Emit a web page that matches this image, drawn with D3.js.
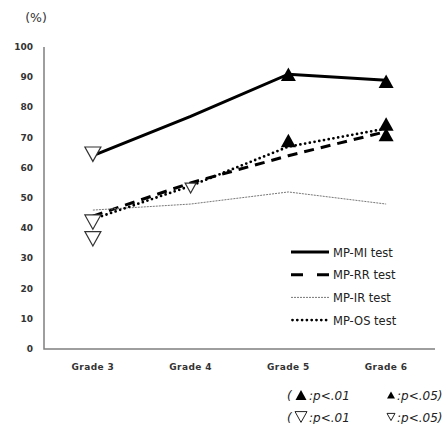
<!DOCTYPE html>
<html>
<head>
<meta charset="utf-8">
<script src="https://cdn.jsdelivr.net/npm/d3@7"></script>
<style>
    body { margin: 0; background: #fff; }
    svg { font-family: "DejaVu Sans", sans-serif; }
    .tick-label { font-size: 9px; font-weight: bold; fill: #333; }
    .legend text { font-family: "DejaVu Sans", sans-serif; font-size: 11.5px; fill: #222; }
    .note { font-family: "DejaVu Sans", sans-serif; font-size: 12px; font-style: italic; fill: #222; }
</style>
</head>
<body>
<div id="chart"></div>
<script>
    const grades = ['Grade 3', 'Grade 4', 'Grade 5', 'Grade 6'];
    const yTicks = [0, 10, 20, 30, 40, 50, 60, 70, 80, 90, 100];

    const mpMI = [64, 77, 91, 89];
    const mpRR = [44, 55, 64, 72];
    const mpIR = [46, 48, 52, 48];
    const mpOS = [43, 54, 67, 73];

    // significance markers: [grade, value]
    const filledBig = [['Grade 5', 91], ['Grade 5', 69], ['Grade 6', 88.7], ['Grade 6', 74.5], ['Grade 6', 71]];
    const openBig = [['Grade 3', 64.5], ['Grade 3', 42], ['Grade 3', 36.5]];
    const openSmall = [['Grade 4', 53.3]];

    const series = [
        { name: 'MP-MI test', values: mpMI, width: 3, dash: null, cap: 'butt', color: '#000' },
        { name: 'MP-RR test', values: mpRR, width: 3, dash: '10,7', cap: 'butt', color: '#000' },
        { name: 'MP-IR test', values: mpIR, width: 1, dash: '2,1', cap: 'butt', color: '#777' },
        { name: 'MP-OS test', values: mpOS, width: 2.8, dash: '0,4.8', cap: 'round', color: '#000' }
    ];

    const width = 443, height = 424;
    const margin = { left: 44, right: 8, top: 47, bottom: 75 };

    const svg = d3.select('#chart').append('svg')
        .attr('width', width)
        .attr('height', height);

    const x = d3.scaleBand()
        .domain(grades)
        .range([margin.left, width - margin.right]);

    const y = d3.scaleLinear()
        .domain([0, 100])
        .range([height - margin.bottom, margin.top]);

    const cx = g => x(g) + x.bandwidth() / 2;

    // axes
    svg.append('path')
        .attr('d', `M${margin.left},${y(100)}V${y(0)}H${width - margin.right}`)
        .attr('fill', 'none')
        .attr('stroke', '#7f7f7f')
        .attr('stroke-width', 1.5);

    svg.append('g').selectAll('text')
        .data(yTicks)
        .enter().append('text')
            .attr('class', 'tick-label')
            .attr('x', 33)
            .attr('y', d => y(d) + 3)
            .attr('text-anchor', 'end')
            .text(d => d);

    svg.append('g').selectAll('text')
        .data(grades)
        .enter().append('text')
            .attr('class', 'tick-label')
            .attr('x', d => cx(d))
            .attr('y', y(0) + 21)
            .attr('text-anchor', 'middle')
            .style('letter-spacing', '0.4px')
            .text(d => d);

    svg.append('text')
        .attr('x', 36)
        .attr('y', 22)
        .attr('text-anchor', 'middle')
        .style('font-size', '12.5px')
        .style('fill', '#333')
        .text('(%)');

    // lines
    const line = d3.line()
        .x((d, i) => cx(grades[i]))
        .y(d => y(d));

    svg.append('g').selectAll('path')
        .data(series)
        .enter().append('path')
            .attr('d', d => line(d.values))
            .attr('fill', 'none')
            .attr('stroke', d => d.color)
            .attr('stroke-width', d => d.width)
            .attr('stroke-dasharray', d => d.dash)
            .attr('stroke-linecap', d => d.cap);

    // markers
    const triDown = (s) => {
        const h = s * 0.9;
        return `M${-s / 2},${-h / 2}L${s / 2},${-h / 2}L0,${h / 2}Z`;
    };
    const triUp = (s) => {
        const h = s * 0.9;
        return `M${-s / 2},${h / 2}L${s / 2},${h / 2}L0,${-h / 2}Z`;
    };

    svg.append('g').selectAll('path')
        .data(filledBig)
        .enter().append('path')
            .attr('transform', d => `translate(${cx(d[0])},${y(d[1])})`)
            .attr('d', triUp(15))
            .attr('fill', '#000');

    svg.append('g').selectAll('path')
        .data(openBig)
        .enter().append('path')
            .attr('transform', d => `translate(${cx(d[0])},${y(d[1])})`)
            .attr('d', triDown(16))
            .attr('fill', '#fff')
            .attr('stroke', '#333')
            .attr('stroke-width', 1.2);

    svg.append('g').selectAll('path')
        .data(openSmall)
        .enter().append('path')
            .attr('transform', d => `translate(${cx(d[0])},${y(d[1])})`)
            .attr('d', triDown(11))
            .attr('fill', '#fff')
            .attr('stroke', '#333')
            .attr('stroke-width', 1.2);

    // legend
    const legend = svg.append('g').attr('class', 'legend')
        .attr('transform', 'translate(291,252)');

    const rows = legend.selectAll('g')
        .data(series)
        .enter().append('g')
            .attr('transform', (d, i) => `translate(0,${i * 22.7})`);

    rows.append('line')
        .attr('x1', d => d.cap === 'round' ? 1.5 : 0).attr('x2', 38)
        .attr('stroke', d => d.color)
        .attr('stroke-width', d => d.width)
        .attr('stroke-dasharray', d => d.name === 'MP-RR test' ? '12,14' : d.dash)
        .attr('stroke-linecap', d => d.cap);

    rows.append('text')
        .attr('x', 42)
        .attr('y', 4.5)
        .text(d => d.name);

    // significance notes
    const notes = [
        { y: 395, big: true },
        { y: 417, big: false }
    ];
    notes.forEach(n => {
        const g = svg.append('g');
        g.append('text').attr('class', 'note').attr('x', 287).attr('y', n.y + 4.5).text('(');
        const p1 = g.append('path').attr('transform', `translate(301,${n.y})`);
        const p2 = g.append('path').attr('transform', `translate(391,${n.y})`);
        if (n.big) {
            p1.attr('d', triUp(11)).attr('fill', '#000');
            p2.attr('d', triUp(8)).attr('fill', '#000');
        } else {
            p1.attr('d', triDown(12)).attr('fill', 'none').attr('stroke', '#222');
            p2.attr('d', triDown(8)).attr('fill', 'none').attr('stroke', '#222');
        }
        g.append('text').attr('class', 'note').attr('x', 309).attr('y', n.y + 4.5).text(':p<.01');
        g.append('text').attr('class', 'note').attr('x', 397).attr('y', n.y + 4.5).text(':p<.05)');
    });
</script>
</body>
</html>
